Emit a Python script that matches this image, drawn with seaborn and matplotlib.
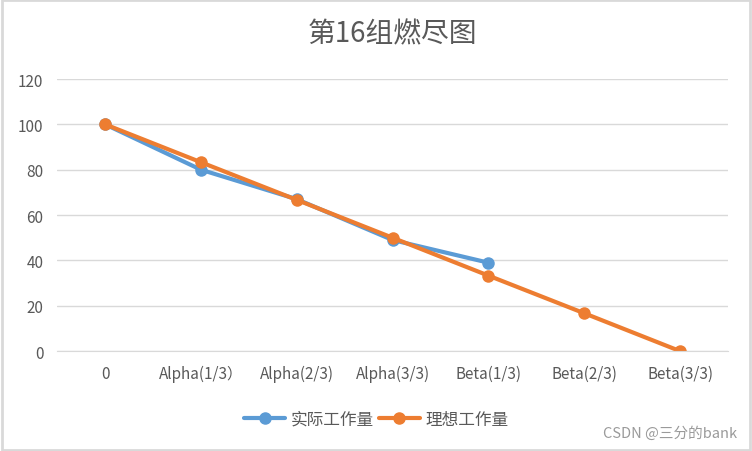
import matplotlib.pyplot as plt
import seaborn as sns
import pandas as pd
import numpy as np
from matplotlib.patches import Rectangle

categories = ['0', 'Alpha(1/3）', 'Alpha(2/3)', 'Alpha(3/3)', 'Beta(1/3)', 'Beta(2/3)', 'Beta(3/3)']
actual = [100, 80, 67, 49, 39]
ideal = [100, 83.3, 66.7, 50, 33.3, 16.7, 0]
series_names = ['实际工作量', '理想工作量']
colors = ['#5B9BD5', '#ED7D31']

sns.set_style('white')
plt.rcParams['font.family'] = ['Noto Sans CJK SC', 'DejaVu Sans']

df = pd.concat([
    pd.DataFrame({'x': range(len(actual)), 'y': actual, 'series': series_names[0]}),
    pd.DataFrame({'x': range(len(ideal)), 'y': ideal, 'series': series_names[1]}),
])

fig = plt.figure(figsize=(7.52, 4.52), dpi=100)
ax = fig.add_axes([0.076, 0.221, 0.892, 0.602])

sns.lineplot(data=df, x='x', y='y', hue='series', hue_order=series_names,
             palette=colors, marker='o', markersize=9, markeredgewidth=0,
             linewidth=3, ax=ax, legend=False)

ax.set_xlim(-0.5, len(categories) - 0.5)
ax.set_ylim(0, 120)
ax.set_yticks(np.arange(0, 121, 20))
ax.set_xticks(range(len(categories)))
ax.set_xticklabels(categories)
ax.set_xlabel('')
ax.set_ylabel('')
ax.yaxis.grid(True, color='#D9D9D9', linewidth=1)
ax.set_axisbelow(True)
for s in ['top', 'right', 'left']:
    ax.spines[s].set_visible(False)
ax.spines['bottom'].set_color('#D9D9D9')
ax.tick_params(axis='both', length=0, colors='#595959', labelsize=11, pad=10)

ax.set_title('第16组燃尽图', fontsize=20, color='#595959', pad=27)

handles = [plt.Line2D([], [], color=c, marker='o', markersize=8, linewidth=3) for c in colors]
fig.legend(handles, series_names, loc='center', bbox_to_anchor=(0.5, 0.07), ncol=2,
           frameon=False, fontsize=12, labelcolor='#595959', handlelength=2.5,
           handletextpad=0.3, columnspacing=0.3)

fig.text(0.98, 0.04, 'CSDN @三分的bank', ha='right', va='center', fontsize=10.5, color='#9A9A9A')
fig.patches.append(Rectangle((0.002, 0.002), 0.995, 0.995, transform=fig.transFigure,
                             fill=False, edgecolor='#D9D9D9', linewidth=2))

fig.savefig('out.png', dpi=100)
